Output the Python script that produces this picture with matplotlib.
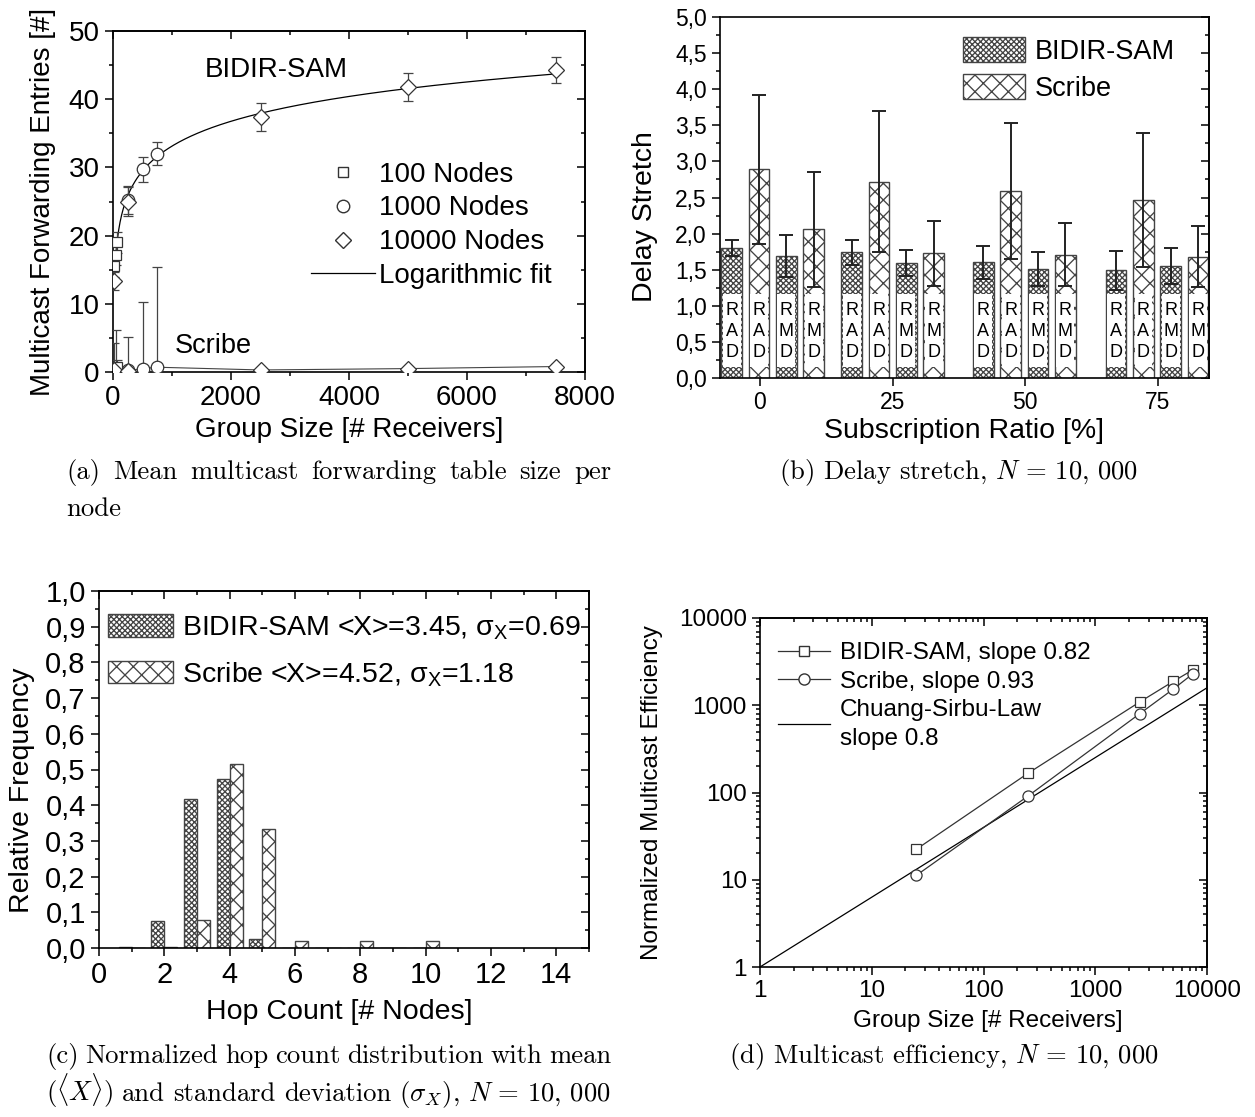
import numpy as np
import matplotlib
matplotlib.use('Agg')
import matplotlib.pyplot as plt
from matplotlib.ticker import MultipleLocator, FuncFormatter, LogLocator, NullFormatter, FixedLocator
from matplotlib.lines import Line2D
from matplotlib.patches import Patch

plt.rcParams['font.family'] = ['Liberation Sans', 'DejaVu Sans']
plt.rcParams['hatch.linewidth'] = 0.95
plt.rcParams['axes.linewidth'] = 1.2

# ---------------- data ----------------
# (a) mean multicast forwarding table size
a100_x = [25, 50, 75]
a100_bidir = [15.5, 17.2, 19.0]
a100_bidir_err = [1.5, 1.5, 1.6]
a100_scribe = [0.5, 0.6, 0.8]
a100_scribe_err = [3.7, 5.6, 1.0]

a1000_x = [250, 500, 750]
a1000_bidir = [25.2, 29.7, 32.0]
a1000_bidir_err = [2.0, 1.8, 1.7]
a1000_scribe = [0.3, 0.5, 0.7]
a1000_scribe_err = [4.9, 9.7, 14.7]

a10000_x = [25, 250, 2500, 5000, 7500]
a10000_bidir = [13.3, 25.0, 37.4, 41.8, 44.3]
a10000_bidir_err = [1.3, 2.1, 2.1, 2.0, 1.9]
a10000_scribe = [0.3, 0.2, 0.3, 0.5, 0.8]
a10000_scribe_err = [0.8, 0.4, 0.3, 0.3, 0.3]

# (b) delay stretch
b_ratio = [0, 25, 50, 75]
b_metric = ['RAD', 'RAD', 'RMD', 'RMD']
b_bidir_rad = [1.80, 1.74, 1.60, 1.49]
b_bidir_rad_err = [0.11, 0.17, 0.23, 0.27]
b_scribe_rad = [2.89, 2.72, 2.59, 2.47]
b_scribe_rad_err = [1.03, 0.98, 0.94, 0.93]
b_bidir_rmd = [1.69, 1.59, 1.51, 1.55]
b_bidir_rmd_err = [0.29, 0.18, 0.23, 0.25]
b_scribe_rmd = [2.06, 1.73, 1.71, 1.68]
b_scribe_rmd_err = [0.80, 0.45, 0.43, 0.42]

# (c) hop count distribution
c_hops = [1, 2, 3, 4, 5, 6, 7, 8, 9, 10]
c_bidir = [0.002, 0.075, 0.418, 0.474, 0.026, 0.001, 0.0, 0.0, 0.0, 0.0]
c_scribe = [0.0, 0.003, 0.078, 0.516, 0.334, 0.021, 0.001, 0.021, 0.001, 0.021]

# (d) multicast efficiency
d_x = [25, 250, 2500, 5000, 7500]
d_bidir = [22.3, 166, 1090, 1880, 2550]
d_scribe = [11.2, 91, 800, 1535, 2300]
d_law_x = [1, 10000]
d_law_y = [1, 1585]

# ---------------- figure ----------------
W, H = 1255, 1117
fig = plt.figure(figsize=(W / 100, H / 100), dpi=100)


def px_axes(l, t, r, b):
    return fig.add_axes([l / W, 1 - b / H, (r - l) / W, (b - t) / H])


def origin_ticks(ax, top=True, right=True, maj=6, mnr=3):
    ax.tick_params(which='both', direction='out', top=False, right=False, width=1.1)
    ax.tick_params(which='major', length=maj)
    ax.tick_params(which='minor', length=mnr)
    if top:
        sx = ax.secondary_xaxis('top')
        sx.xaxis.set_major_locator(ax.xaxis.get_major_locator())
        sx.xaxis.set_minor_locator(ax.xaxis.get_minor_locator())
        sx.tick_params(which='both', direction='in', labeltop=False, width=1.1)
        sx.tick_params(which='major', length=maj)
        sx.tick_params(which='minor', length=mnr)
    if right:
        sy = ax.secondary_yaxis('right')
        sy.yaxis.set_major_locator(ax.yaxis.get_major_locator())
        sy.yaxis.set_minor_locator(ax.yaxis.get_minor_locator())
        sy.tick_params(which='both', direction='in', labelright=False, width=1.1)
        sy.tick_params(which='major', length=maj)
        sy.tick_params(which='minor', length=mnr)


comma = FuncFormatter(lambda v, p: f"{v:.1f}".replace('.', ','))
EC = '#333333'
BE = '#444444'

# ---------------- (a) ----------------
ax = px_axes(113, 31, 585, 372)
all_bx = np.array(a100_x + a1000_x + a10000_x, float)
all_by = np.array(a100_bidir + a1000_bidir + a10000_bidir, float)
coef = np.polyfit(np.log(all_bx), all_by, 1)
fx = np.linspace(20, 7500, 600)
ax.plot(fx, np.polyval(coef, np.log(fx)), color='black', lw=0.9, zorder=2)

sx_all = np.array(a100_x + a1000_x + a10000_x, float)
sy_all = np.array(a100_scribe + a1000_scribe + a10000_scribe, float)
order = np.argsort(sx_all, kind='stable')
ax.plot(sx_all[order], sy_all[order], color='#444444', lw=0.8, zorder=2)

mk = dict(mfc='white', mec=EC, mew=0.9, ecolor='#444444', elinewidth=0.9, capsize=3.5, capthick=0.9, ls='none', zorder=3)
for xs, ys, es, m, ms in ((a100_x, a100_bidir, a100_bidir_err, 's', 7),
                          (a1000_x, a1000_bidir, a1000_bidir_err, 'o', 9),
                          (a10000_x, a10000_bidir, a10000_bidir_err, 'D', 8)):
    ax.errorbar(xs, ys, yerr=es, marker=m, ms=ms, **mk)
for xs, ys, es, m, ms in ((a100_x, a100_scribe, a100_scribe_err, 's', 7),
                          (a1000_x, a1000_scribe, a1000_scribe_err, 'o', 9),
                          (a10000_x, a10000_scribe, a10000_scribe_err, 'D', 8)):
    ax.errorbar(xs, ys, yerr=[np.zeros(len(es)), es], marker=m, ms=ms, **mk)

ax.set_xlim(0, 8000)
ax.set_ylim(0, 50)
ax.xaxis.set_major_locator(MultipleLocator(2000))
ax.xaxis.set_minor_locator(MultipleLocator(1000))
ax.yaxis.set_major_locator(MultipleLocator(10))
ax.yaxis.set_minor_locator(MultipleLocator(5))
ax.tick_params(labelsize=20)
origin_ticks(ax)
ax.set_xlabel('Group Size [# Receivers]', fontsize=20)
ax.set_ylabel('Multicast Forwarding Entries [#]', fontsize=20)
ax.xaxis.set_label_coords(0.5, -0.132)
ax.yaxis.set_label_coords(-0.12, 0.5)
ax.text(1560, 44.3, 'BIDIR-SAM', fontsize=20, va='center')
ax.text(1050, 3.8, 'Scribe', fontsize=19.5, va='center')
handles = [Line2D([], [], ls='none', marker='s', ms=7, mfc='white', mec=EC),
           Line2D([], [], ls='none', marker='o', ms=9, mfc='white', mec=EC),
           Line2D([], [], ls='none', marker='D', ms=8, mfc='white', mec=EC),
           Line2D([], [], color='black', lw=0.9)]
ax.legend(handles, ['100 Nodes', '1000 Nodes', '10000 Nodes', 'Logarithmic fit'],
          loc='center left', bbox_to_anchor=(0.42, 0.43), frameon=False, fontsize=20,
          handlelength=2.3, handletextpad=0.15, labelspacing=0.28, borderpad=0, borderaxespad=0)

# ---------------- (b) ----------------
ax = px_axes(720, 17, 1209, 378)
group_start = [-5.3, 17.3, 42.1, 67.1]
step, bw = 5.15, 3.9
series = [(b_bidir_rad, b_bidir_rad_err, 'xxxxxx'), (b_scribe_rad, b_scribe_rad_err, 'xx'),
          (b_bidir_rmd, b_bidir_rmd_err, 'xxxxxx'), (b_scribe_rmd, b_scribe_rmd_err, 'xx')]
for i, (vals, errs, hatch) in enumerate(series):
    pos = np.array(group_start) + i * step
    ax.bar(pos, vals, width=bw, facecolor='white', edgecolor=BE, hatch=hatch, lw=1.0, zorder=2)
    ax.bar(pos, [1.02] * len(pos), bottom=0.15, width=bw * 0.86, facecolor='white', edgecolor='none', zorder=3)
    ax.errorbar(pos, vals, yerr=errs, fmt='none', ecolor='#222222', elinewidth=1.4, capsize=5, capthick=1.4, zorder=4)
    for p in pos:
        for k, ch in enumerate(b_metric[i]):
            ax.text(p, 0.94 - k * 0.295, ch, ha='center', va='center', fontsize=13, zorder=5)
ax.set_xlim(-7.5, 84.6)
ax.set_ylim(0, 5)
ax.xaxis.set_major_locator(FixedLocator(b_ratio))
ax.yaxis.set_major_locator(MultipleLocator(0.5))
ax.yaxis.set_minor_locator(MultipleLocator(0.25))
ax.yaxis.set_major_formatter(comma)
ax.tick_params(labelsize=16.5)
origin_ticks(ax, top=False)
ax.set_xlabel('Subscription Ratio [%]', fontsize=20.5)
ax.set_ylabel('Delay Stretch', fontsize=20.5)
ax.xaxis.set_label_coords(0.498, -0.11)
ax.yaxis.set_label_coords(-0.127, 0.446)
lh = [Patch(facecolor='white', edgecolor=BE, hatch='xxxxxx'),
      Patch(facecolor='white', edgecolor=BE, hatch='xx')]
ax.legend(lh, ['BIDIR-SAM', 'Scribe'], loc='upper left', bbox_to_anchor=(0.497, 0.945),
          frameon=False, fontsize=19.5, handlelength=2.3, handleheight=1.05, handletextpad=0.35,
          labelspacing=0.35, borderpad=0, borderaxespad=0)

# ---------------- (c) ----------------
ax = px_axes(99, 591, 589, 948)
hx = np.array(c_hops, float)
ax.bar(hx - 0.2, c_bidir, width=0.4, facecolor='white', edgecolor=BE, hatch='xxxxxx', lw=1.0)
ax.bar(hx + 0.2, c_scribe, width=0.4, facecolor='white', edgecolor=BE, hatch='xx', lw=1.0)
ax.set_xlim(0, 15)
ax.set_ylim(0, 1.0)
ax.xaxis.set_major_locator(MultipleLocator(2))
ax.xaxis.set_minor_locator(MultipleLocator(1))
ax.yaxis.set_major_locator(MultipleLocator(0.1))
ax.yaxis.set_minor_locator(MultipleLocator(0.05))
ax.yaxis.set_major_formatter(comma)
ax.tick_params(labelsize=21)
origin_ticks(ax)
ax.set_xlabel('Hop Count [# Nodes]', fontsize=20.5)
ax.set_ylabel('Relative Frequency', fontsize=20.5)
ax.xaxis.set_label_coords(0.49, -0.143)
ax.yaxis.set_label_coords(-0.13, 0.443)
lh = [Patch(facecolor='white', edgecolor=BE, hatch='xxxxxx'),
      Patch(facecolor='white', edgecolor=BE, hatch='xx')]
ax.legend(lh, [r'BIDIR-SAM <X>=3.45, σ$_\mathregular{X}$=0.69', r'Scribe <X>=4.52, σ$_\mathregular{X}$=1.18'],
          loc='upper left', bbox_to_anchor=(0.018, 0.935), frameon=False, fontsize=20.5,
          handlelength=2.3, handleheight=0.85, handletextpad=0.3, labelspacing=0.62,
          borderpad=0, borderaxespad=0)

# ---------------- (d) ----------------
ax = px_axes(760, 618, 1207, 967)
ax.set_xscale('log')
ax.set_yscale('log')
ax.plot(d_law_x, d_law_y, color='black', lw=0.9)
ax.plot(d_x, d_bidir, color='#333333', lw=0.9, marker='s', ms=7, mfc='white', mec=EC, mew=0.9)
ax.plot(d_x, d_scribe, color='#333333', lw=0.9, marker='o', ms=8, mfc='white', mec=EC, mew=0.9)
ax.set_xlim(1, 10000)
ax.set_ylim(1, 10000)
for axis in (ax.xaxis, ax.yaxis):
    axis.set_major_locator(LogLocator(base=10, numticks=10))
    axis.set_minor_locator(LogLocator(base=10, subs=np.arange(2, 10), numticks=10))
    axis.set_minor_formatter(NullFormatter())
    axis.set_major_formatter(FuncFormatter(lambda v, p: f"{v:g}" if v < 1e5 else ""))
ax.tick_params(labelsize=17.5)
origin_ticks(ax, maj=6, mnr=3)
ax.set_xlabel('Group Size [# Receivers]', fontsize=17.5)
ax.set_ylabel('Normalized Multicast Efficiency', fontsize=17.5)
ax.xaxis.set_label_coords(0.51, -0.123)
ax.yaxis.set_label_coords(-0.217, 0.5)
lh = [Line2D([], [], color='#333333', lw=0.9, marker='s', ms=7, mfc='white', mec=EC),
      Line2D([], [], color='#333333', lw=0.9, marker='o', ms=8, mfc='white', mec=EC),
      Line2D([], [], color='black', lw=0.9)]
leg = ax.legend(lh, ['BIDIR-SAM, slope 0.82', 'Scribe, slope 0.93', 'Chuang-Sirbu-Law\nslope 0.8'],
                loc='upper left', bbox_to_anchor=(0.04, 0.93), frameon=False, fontsize=17.5,
                handlelength=2.15, handletextpad=0.4, labelspacing=0.25, borderpad=0, borderaxespad=0)
for t in leg.get_texts():
    t.set_linespacing(1.45)

# ---------------- captions ----------------
cap = dict(family='cmr10', math_fontfamily='cm', fontsize=19.2, va='baseline')


def justify(words, x0, x1, ybase):
    texts = [fig.text(0, 1 - ybase / H, w, **cap) for w in words]
    fig.canvas.draw()
    r = fig.canvas.get_renderer()
    widths = [t.get_window_extent(r).width for t in texts]
    gap = ((x1 - x0) - sum(widths)) / (len(words) - 1)
    x = x0
    for t, w in zip(texts, widths):
        t.set_x(x / W)
        x += w + gap


justify(['(a)', 'Mean', 'multicast', 'forwarding', 'table', 'size', 'per'], 66, 611, 479)
fig.text(66 / W, 1 - 516 / H, 'node', **cap)
fig.text(959 / W, 1 - 479 / H, r'(b) Delay stretch, $N\,=\,10,\,000$', ha='center', **cap)
justify(['(c)', 'Normalized', 'hop', 'count', 'distribution', 'with', 'mean'], 46, 611, 1063)
justify([r'($\langle X\rangle$)', 'and', 'standard', 'deviation', r'($\sigma_X$),', r'$N\,=\,10,\,000$'], 46, 611, 1101)
fig.text(944 / W, 1 - 1063 / H, r'(d) Multicast efficiency, $N\,=\,10,\,000$', ha='center', **cap)

fig.savefig('out.png', dpi=100)
